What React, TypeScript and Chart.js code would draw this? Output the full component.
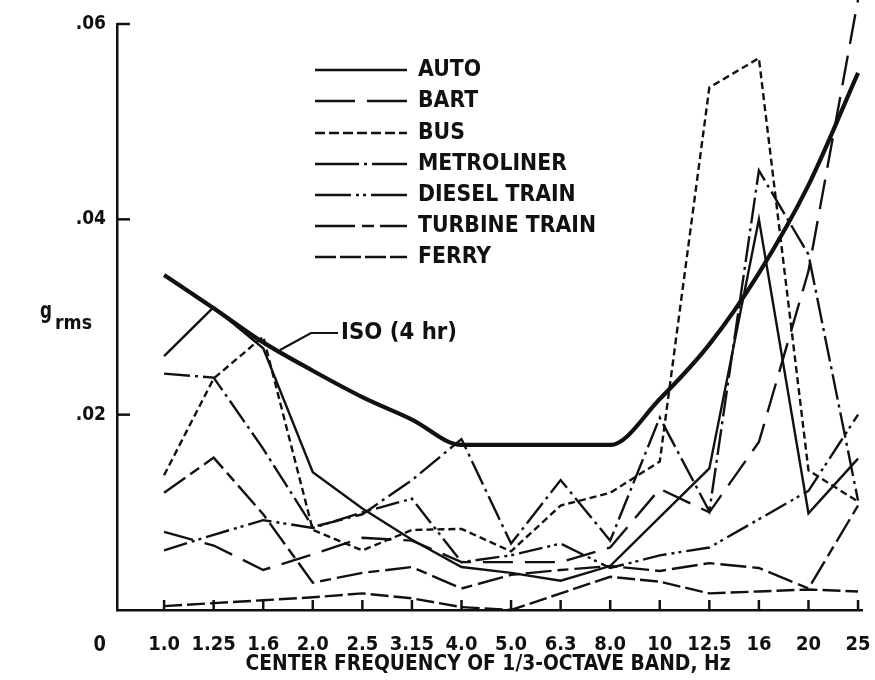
import React, { useEffect, useRef } from 'react';
import { Chart, registerables } from 'chart.js';

Chart.register(...registerables);

// ---- data ----
const freqLabels = ['1.0', '1.25', '1.6', '2.0', '2.5', '3.15', '4.0', '5.0', '6.3', '8.0', '10', '12.5', '16', '20', '25'];
const yTickValues = [0, 0.02, 0.04, 0.06];
const yTickLabels = ['0', '.02', '.04', '.06'];

const isoValues = [0.0343, 0.0309, 0.0274, 0.0245, 0.0218, 0.0195, 0.0169, 0.0169, 0.0169, 0.0169, 0.0216, 0.0272, 0.0345, 0.0435, 0.0550];
const autoValues = [0.0260, 0.0310, 0.0268, 0.0141, 0.0104, 0.0072, 0.0044, 0.0038, 0.0030, 0.0045, 0.0095, 0.0145, 0.0400, 0.0099, 0.0155];
const bartValues = [0.0080, 0.0066, 0.0041, 0.0057, 0.0074, 0.0071, 0.0049, 0.0049, 0.0049, 0.0064, 0.0124, 0.0100, 0.0172, 0.0347, 0.0625];
const busValues = [0.0138, 0.0237, 0.0280, 0.0082, 0.0061, 0.0082, 0.0083, 0.0060, 0.0107, 0.0120, 0.0152, 0.0535, 0.0565, 0.0143, 0.0111];
const metrolinerValues = [0.0242, 0.0238, 0.0165, 0.0085, 0.0098, 0.0133, 0.0175, 0.0068, 0.0133, 0.0071, 0.0197, 0.0101, 0.0450, 0.0364, 0.0112];
const dieselValues = [0.0061, 0.0077, 0.0092, 0.0084, 0.0100, 0.0114, 0.0049, 0.0056, 0.0068, 0.0043, 0.0056, 0.0064, 0.0093, 0.0122, 0.0200];
const turbineValues = [0.0120, 0.0156, 0.0098, 0.0028, 0.0038, 0.0044, 0.0022, 0.0036, 0.0041, 0.0045, 0.0040, 0.0048, 0.0043, 0.0022, 0.0107];
const ferryValues = [0.0004, 0.0007, 0.0010, 0.0013, 0.0017, 0.0012, 0.0003, 0.0000, 0.0017, 0.0034, 0.0029, 0.0017, 0.0019, 0.0021, 0.0019];

const seriesNames = ['AUTO', 'BART', 'BUS', 'METROLINER', 'DIESEL TRAIN', 'TURBINE TRAIN', 'FERRY'];
const seriesValues = [autoValues, bartValues, busValues, metrolinerValues, dieselValues, turbineValues, ferryValues];
const isoLabel = 'ISO (4 hr)';
const xTitle = 'CENTER FREQUENCY OF 1/3-OCTAVE BAND, Hz';
const yTitleMain = 'g';
const yTitleSub = 'rms';

// ---- styles ----
const FONT = "'Liberation Sans Narrow', 'DejaVu Sans Condensed', 'Roboto Condensed', 'DejaVu Sans', sans-serif";
const dashes: number[][] = [
  [],
  [30, 12],
  [7, 4],
  [26, 5, 3, 5],
  [24, 5, 3, 4, 3, 5],
  [26, 6, 11, 6],
  [18, 5],
];
const legendDashes: number[][] = [
  [],
  [40, 12],
  [10, 4],
  [44, 5, 3, 5],
  [36, 5, 3, 4, 3, 5],
  [40, 7, 12, 6],
  [21, 4],
];
const INK = '#111';

const toPoints = (vals: number[]) => vals.map((v, i) => ({ x: i, y: v }));

function fitText(ctx: CanvasRenderingContext2D, text: string, x: number, y: number, size: number, sx: number, align: CanvasTextAlign) {
  ctx.save();
  ctx.font = `bold ${size}px ${FONT}`;
  ctx.translate(x, y);
  ctx.scale(sx, 1);
  ctx.textAlign = align;
  ctx.textBaseline = 'middle';
  ctx.fillText(text, 0, 0);
  ctx.restore();
}

function scaleFor(ctx: CanvasRenderingContext2D, text: string, size: number, width: number) {
  ctx.font = `bold ${size}px ${FONT}`;
  return width / ctx.measureText(text).width;
}

const overlay = {
  id: 'overlay',
  afterDraw(chart: any) {
    const { ctx, chartArea: ca, scales } = chart;
    const x = scales.x;
    const y = scales.y;
    ctx.save();
    ctx.strokeStyle = INK;
    ctx.fillStyle = INK;
    ctx.lineWidth = 2.5;
    ctx.setLineDash([]);
    // inward tick marks
    yTickValues.forEach((v) => {
      if (v === 0) return;
      const py = y.getPixelForValue(v);
      ctx.beginPath();
      ctx.moveTo(ca.left, py);
      ctx.lineTo(ca.left + 13, py);
      ctx.stroke();
    });
    freqLabels.forEach((_, i) => {
      const px = x.getPixelForValue(i);
      ctx.beginPath();
      ctx.moveTo(px, ca.bottom);
      ctx.lineTo(px, ca.bottom - 10);
      ctx.stroke();
    });
    // origin label
    fitText(ctx, yTickLabels[0], 106, 645, 22, 0.9, 'right');
    // y title g_rms
    fitText(ctx, yTitleMain, 40, 312, 23, scaleFor(ctx, yTitleMain, 23, 12), 'left');
    fitText(ctx, yTitleSub, 55, 324, 20, scaleFor(ctx, yTitleSub, 20, 37), 'left');
    // x title
    fitText(ctx, xTitle, 488, 664, 22, scaleFor(ctx, xTitle, 22, 485), 'center');
    // legend
    const rowY = [70, 101, 133, 164, 195, 226, 257];
    const lsx = scaleFor(ctx, 'TURBINE TRAIN', 23, 178);
    seriesNames.forEach((name, i) => {
      const ry = rowY[i];
      ctx.lineWidth = 2.6;
      ctx.setLineDash(legendDashes[i]);
      ctx.beginPath();
      ctx.moveTo(315, ry);
      ctx.lineTo(407, ry);
      ctx.stroke();
      ctx.setLineDash([]);
      fitText(ctx, name, 418, ry, 23, lsx, 'left');
    });
    // ISO annotation
    ctx.lineWidth = 2.2;
    ctx.beginPath();
    ctx.moveTo(338, 333);
    ctx.lineTo(311, 333);
    ctx.lineTo(280, 350);
    ctx.stroke();
    fitText(ctx, isoLabel, 341, 333, 23, scaleFor(ctx, isoLabel, 23, 116), 'left');
    ctx.restore();
  },
};

export default function App() {
  const ref = useRef<HTMLCanvasElement | null>(null);
  useEffect(() => {
    document.body.style.margin = '0';
    const canvas = ref.current;
    if (!canvas) return;
    const datasets: any[] = [
      {
        label: 'ISO (4 hr)',
        data: toPoints(isoValues),
        borderColor: INK,
        borderWidth: 4.2,
        pointRadius: 0,
        cubicInterpolationMode: 'monotone',
        clip: false,
      },
      ...seriesNames.map((name, i) => ({
        label: name,
        data: toPoints(seriesValues[i]),
        borderColor: INK,
        borderWidth: 2.4,
        borderDash: dashes[i],
        pointRadius: 0,
        tension: 0,
        clip: false,
      })),
    ];
    const chart = new Chart(canvas, {
      type: 'line',
      data: { datasets },
      options: {
        animation: false,
        responsive: false,
        devicePixelRatio: 1,
        layout: { padding: { left: 0, right: 13, top: 24, bottom: 0 } },
        plugins: { legend: { display: false }, tooltip: { enabled: false } },
        scales: {
          x: {
            type: 'linear',
            min: -0.95,
            max: 14.08,
            grid: { display: false, drawTicks: false },
            border: { display: true, color: INK, width: 2.5 },
            afterBuildTicks: (s: any) => {
              s.ticks = freqLabels.map((_, i) => ({ value: i }));
            },
            afterFit: (s: any) => {
              s.height = 70;
              s.paddingLeft = 0;
              s.paddingRight = 0;
            },
            ticks: {
              autoSkip: false,
              maxRotation: 0,
              padding: 23,
              color: INK,
              font: { family: FONT, size: 20, weight: 'bold' },
              callback: (v: any) => freqLabels[Math.round(Number(v))] ?? '',
            },
          },
          y: {
            type: 'linear',
            min: 0,
            max: 0.06,
            grid: { display: false, drawTicks: false },
            border: { display: true, color: INK, width: 2.5 },
            afterBuildTicks: (s: any) => {
              s.ticks = yTickValues.map((v) => ({ value: v }));
            },
            afterFit: (s: any) => {
              s.width = 117;
              s.paddingTop = 0;
              s.paddingBottom = 0;
            },
            ticks: {
              padding: 11,
              color: INK,
              font: { family: FONT, size: 19, weight: 'bold' },
              callback: (_v: any, i: number) => (i === 0 ? '' : yTickLabels[i]),
            },
          },
        },
      },
      plugins: [overlay],
    } as any);
    return () => chart.destroy();
  }, []);
  return (
    <div style={{ width: 875, height: 680, background: '#fff' }}>
      <canvas ref={ref} width={875} height={680} style={{ display: 'block' }} />
    </div>
  );
}
